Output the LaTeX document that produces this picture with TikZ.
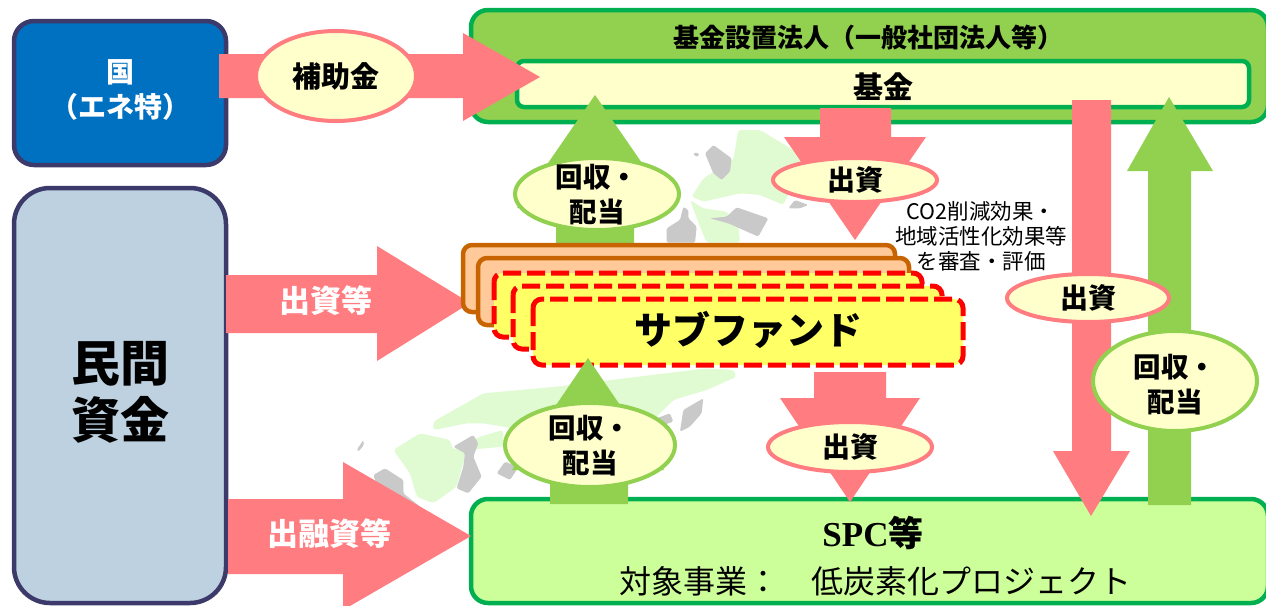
\documentclass[tikz,border=0pt]{standalone}
\usepackage{fontspec}
\setmainfont{Noto Sans CJK JP}
\newfontfamily\latinserif{Liberation Serif}
\usetikzlibrary{shapes.geometric}
\definecolor{pinkarrow}{HTML}{FF7C80}
\definecolor{greenarrow}{HTML}{92D050}
\definecolor{darkgreen}{HTML}{00B050}
\definecolor{creamfill}{HTML}{FFFFCC}
\definecolor{navyline}{HTML}{3B3A6B}
\definecolor{landgreen}{HTML}{E0FBD2}
\definecolor{islandgray}{HTML}{C9C9C9}
\definecolor{bluefill}{HTML}{0070C0}
\definecolor{slatefill}{HTML}{BDD1E0}
\definecolor{panelgreen}{HTML}{CCFF99}
\definecolor{orangeline}{HTML}{C86400}
\definecolor{orangefill}{HTML}{FFC999}
\definecolor{yellowfill}{HTML}{FFFF66}
\tikzset{
  redarrow/.style={fill=pinkarrow,draw=none},
  grnarrow/.style={fill=greenarrow,draw=none},
  land/.style={fill=landgreen,draw=none,rounded corners=3pt},
  island/.style={fill=islandgray,draw=none,rounded corners=1.5pt},
  sidebox/.style={draw=navyline,line width=4.5pt},
  panel/.style={draw=darkgreen,line width=4.5pt,rounded corners=17pt},
  orangebox/.style={draw=orangeline,line width=4.5pt,fill=orangefill,rounded corners=9pt},
  ybox/.style={draw=red,line width=5pt,dash pattern=on 18pt off 6pt,fill=yellowfill,rounded corners=9pt},
  ovalred/.style={ellipse,draw=pinkarrow,line width=4pt,fill=creamfill,inner sep=0pt},
  ovalgreen/.style={ellipse,draw=greenarrow,line width=4pt,fill=creamfill,inner sep=0pt},
  ovaltextred/.style={inner sep=0pt,align=center,font=\bfseries\fontsize{28}{32}\selectfont},
  ovaltextgreen/.style={inner sep=0pt,align=center,font=\bfseries\fontsize{27.5}{35}\selectfont},
  textlab/.style={inner sep=0pt,align=center}
}
\begin{document}
\begin{tikzpicture}[x=1pt,y=-1pt]
\useasboundingbox (0,0) rectangle (1266,605);
\fill[white] (0,0) rectangle (1266,605);
% map, north part
\begin{scope}[shift={(660,130)},x=0.3333pt,y=-0.3333pt]
\fill[land] (235,0) -- (300,0) -- (400,60) -- (430,100) -- (370,225) -- (300,195) -- (240,190) -- (130,215) -- (95,200) -- (130,145) -- (220,90) -- cycle;
\fill[land] (90,210) -- (130,235) -- (200,245) -- (235,290) -- (240,338) -- (140,338) -- (120,290) -- cycle;
\fill[island] (135,70) -- (160,45) -- (215,85) -- (210,125) -- (185,150) -- (160,130) -- cycle;
\fill[island] (150,265) -- (200,260) -- (230,232) -- (325,265) -- (295,320) -- (250,300) -- (205,280) -- cycle;
\fill[island] (20,295) -- (60,270) -- (70,230) -- (85,240) -- (85,265) -- (110,290) -- (105,338) -- (20,338) -- cycle;
\fill[island] (100,68) -- (118,70) -- (115,80) -- (103,78) -- cycle;
\fill[island] (385,235) -- (405,210) -- (445,225) -- (420,235) -- cycle;
\end{scope}
% map, south part
\begin{scope}[shift={(340,360)},x=0.3333pt,y=-0.3333pt]
\fill[land] (280,185) -- (430,100) -- (650,80) -- (1100,25) -- (1180,30) -- (1190,50) -- (1100,90) -- (1000,120) -- (950,170) -- (800,260) -- (490,200) -- (430,190) -- (380,190) -- (280,210) -- cycle;
\fill[land] (160,270) -- (240,220) -- (330,240) -- (340,270) -- (420,230) -- (490,210) -- (490,260) -- (380,270) -- (350,380) -- (280,430) -- (230,410) -- (210,340) -- cycle;
\fill[island] (340,260) -- (400,225) -- (415,250) -- (400,290) -- (425,350) -- (385,400) -- (350,385) -- (370,320) -- (375,280) -- cycle;
\fill[island] (100,345) -- (135,325) -- (190,360) -- (190,400) -- (240,440) -- (120,400) -- cycle;
\fill[island] (470,340) -- (495,305) -- (520,315) -- (530,330) -- (510,360) -- cycle;
\fill[island] (950,175) -- (990,160) -- (1000,185) -- (970,195) -- cycle;
\fill[island] (1020,215) -- (1030,150) -- (1090,115) -- (1085,160) -- (1050,200) -- cycle;
\fill[island] (50,270) -- (70,240) -- (72,255) -- (55,275) -- cycle;
\end{scope}
% side boxes
\draw[sidebox,fill=bluefill,rounded corners=20pt] (14,21) rectangle (226,165);
\draw[sidebox,fill=slatefill,rounded corners=36pt] (14,188) rectangle (226,603);
% top and bottom panels
\draw[panel,fill=greenarrow] (471,10) rectangle (1268,122);
\draw[panel,fill=panelgreen] (471,499) rectangle (1268,603);
\draw[draw=darkgreen,line width=4.5pt,fill=creamfill,rounded corners=7pt] (517,61) rectangle (1249,107);
% block arrows
\fill[redarrow] (219,54) -- (463,54) -- (463,33) -- (540,77) -- (463,121) -- (463,98) -- (219,98) -- cycle;
\fill[redarrow] (226,275) -- (377,275) -- (377,246) -- (470,303) -- (377,361) -- (377,333) -- (226,333) -- cycle;
\fill[redarrow] (228,499) -- (343,499) -- (343,462) -- (471,536) -- (343,610) -- (343,574) -- (228,574) -- cycle;
\fill[grnarrow] (556,245) -- (556,208) -- (517,208) -- (595,95) -- (673,208) -- (634,208) -- (634,245) -- cycle;
\fill[redarrow] (820,108) -- (891,108) -- (891,137) -- (926,137) -- (855,240) -- (784,137) -- (820,137) -- cycle;
\fill[redarrow] (1072,100) -- (1111,100) -- (1111,451) -- (1130,451) -- (1091,516) -- (1053,451) -- (1072,451) -- cycle;
\fill[grnarrow] (1148,505) -- (1148,171) -- (1127,171) -- (1169,97) -- (1213,171) -- (1191,171) -- (1191,505) -- cycle;
\fill[redarrow] (814,372) -- (886,372) -- (886,398) -- (920,398) -- (850,502) -- (780,398) -- (814,398) -- cycle;
% sub-fund stack
\draw[orangebox] (463,245) rectangle (895,312);
\draw[orangebox] (478,258) rectangle (909,325);
\draw[ybox] (494,273) rectangle (922,337);
\draw[ybox] (513,286) rectangle (942,349);
\draw[ybox] (533,299) rectangle (963,365);
\fill[grnarrow] (550,504) -- (550,470) -- (512,470) -- (588,358) -- (664,470) -- (628,470) -- (628,504) -- cycle;
% ovals
\node[ovalred,minimum width=160pt,minimum height=90pt] (subsidy) at (336,76) {};
\node[ovalgreen,minimum width=164pt,minimum height=72pt] (retA) at (597,194) {};
\node[ovalred,minimum width=164pt,minimum height=44pt] (invA) at (855,180) {};
\node[ovalred,minimum width=162pt,minimum height=48pt] (invB) at (1088,298) {};
\node[ovalgreen,minimum width=164pt,minimum height=100pt] (retB) at (1175,381) {};
\node[ovalred,minimum width=164pt,minimum height=50pt] (invC) at (850,447) {};
\node[ovalgreen,minimum width=170pt,minimum height=84pt] (retC) at (590,445) {};
\node[ovaltextred,font=\bfseries\fontsize{29}{32}\selectfont] (subsidytext) at (subsidy) {補助金};
\node[ovaltextgreen] (retAtext) at (597,195) {回収・\\配当};
\node[ovaltextred] (invAtext) at (invA) {出資};
\node[ovaltextred] (invBtext) at (invB) {出資};
\node[ovaltextgreen] (retBtext) at (1175,385) {回収・\\配当};
\node[ovaltextred] (invCtext) at (invC) {出資};
\node[ovaltextgreen] (retCtext) at (590,446) {回収・\\配当};
% labels
\node[textlab,text=white,font=\bfseries\fontsize{28}{35}\selectfont] (kuni) at (120,90) {国\\（エネ特）};
\node[textlab,font=\bfseries\fontsize{49}{57}\selectfont] (minkan) at (120,392) {民間\\資金};
\node[textlab,font=\bfseries\fontsize{26}{30}\selectfont] (hojin) at (868,38) {基金設置法人（一般社団法人等）};
\node[textlab,font=\bfseries\fontsize{30}{34}\selectfont] (kikin) at (883,87) {基金};
\node[textlab,font=\bfseries\fontsize{38}{44}\selectfont] (subfund) at (748,330) {サブファンド};
\node[textlab,font=\fontsize{21.5}{25}\selectfont] (review) at (981,236) {CO2削減効果・\\地域活性化効果等\\を審査・評価};
\node[textlab,text=white,font=\bfseries\fontsize{31}{34}\selectfont] (equity) at (326,301) {出資等};
\node[textlab,text=white,font=\bfseries\fontsize{31}{34}\selectfont] (loan) at (329,534) {出融資等};
\node[textlab,font=\bfseries\fontsize{35}{42}\selectfont] (spc) at (873,533) {{\latinserif SPC}等};
\node[textlab,font=\fontsize{32}{38}\selectfont] (target) at (875,581) {対象事業：　低炭素化プロジェクト};
\end{tikzpicture}
\end{document}
